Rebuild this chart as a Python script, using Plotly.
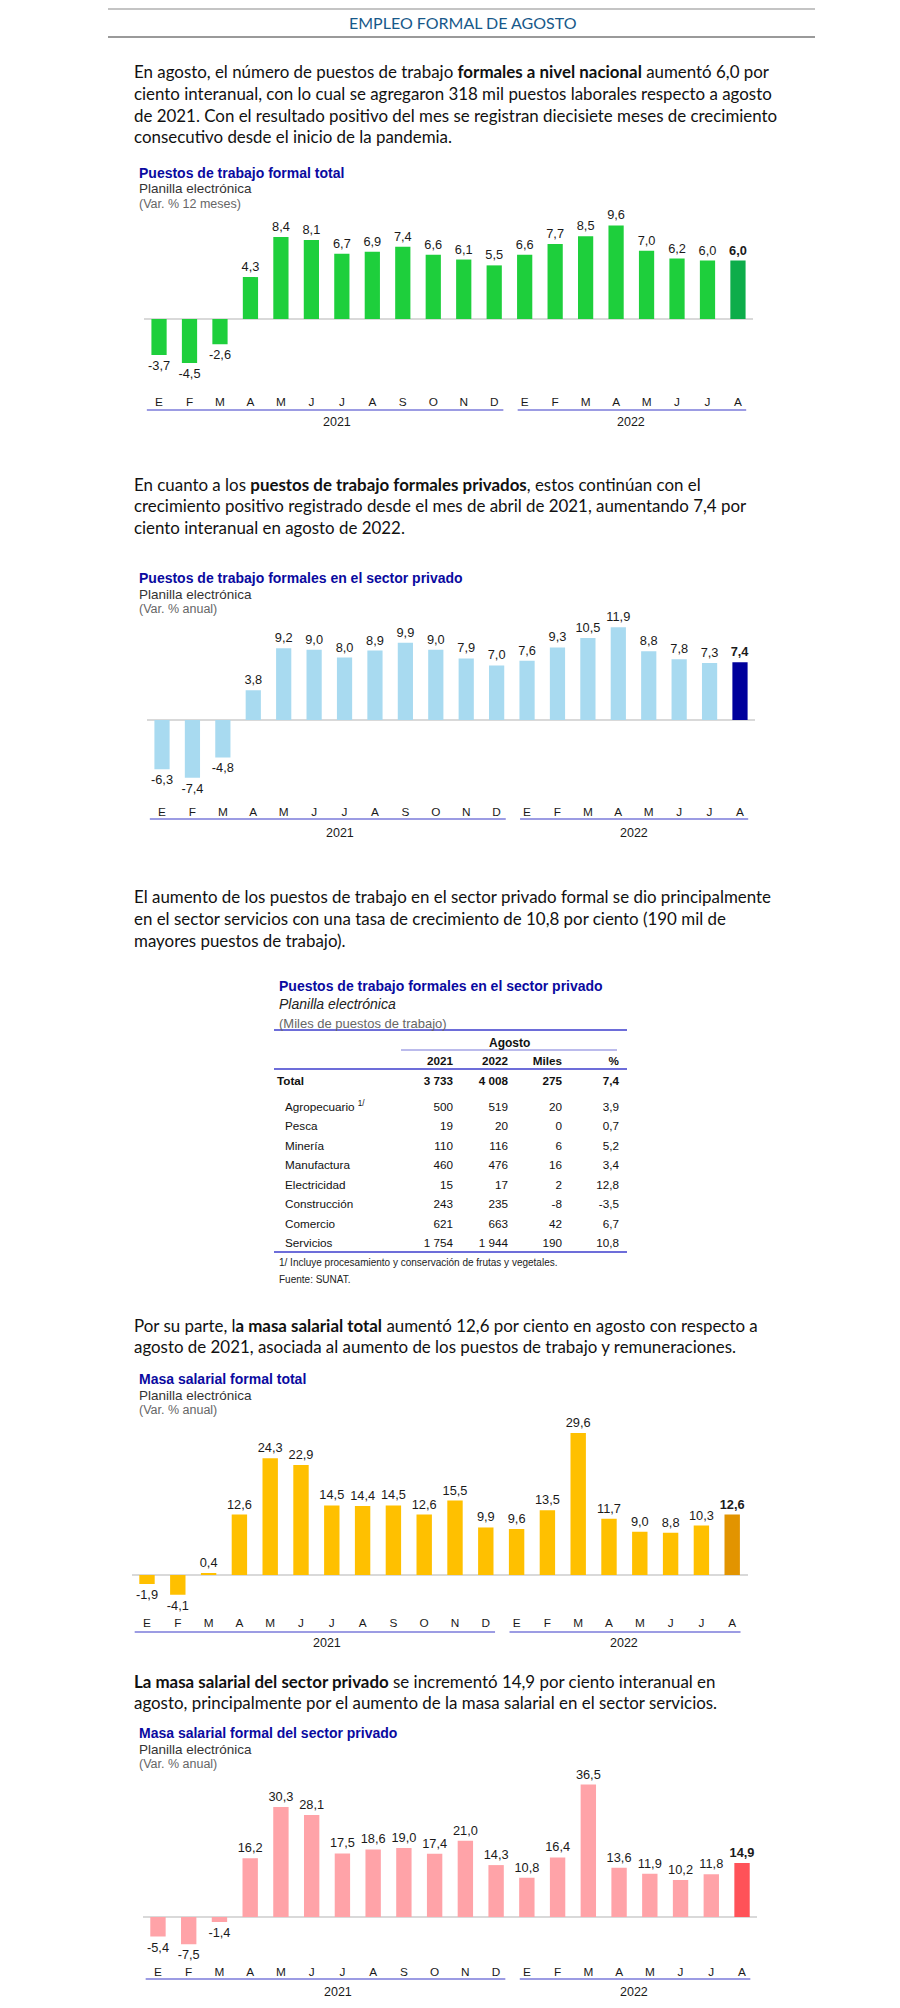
import plotly.graph_objects as go

# page is 900x2008; the browser body keeps an 8px margin, so the figure is 884 wide
OFF = 8
W, H = 884, 1990

# ---------------- data ----------------
months = ["E", "F", "M", "A", "M", "J", "J", "A", "S", "O", "N", "D",
          "E", "F", "M", "A", "M", "J", "J", "A"]
years = ["2021", "2022"]

empleo_total = [-3.7, -4.5, -2.6, 4.3, 8.4, 8.1, 6.7, 6.9, 7.4, 6.6, 6.1, 5.5,
                6.6, 7.7, 8.5, 9.6, 7.0, 6.2, 6.0, 6.0]
empleo_privado = [-6.3, -7.4, -4.8, 3.8, 9.2, 9.0, 8.0, 8.9, 9.9, 9.0, 7.9, 7.0,
                  7.6, 9.3, 10.5, 11.9, 8.8, 7.8, 7.3, 7.4]
masa_total = [-1.9, -4.1, 0.4, 12.6, 24.3, 22.9, 14.5, 14.4, 14.5, 12.6, 15.5, 9.9,
              9.6, 13.5, 29.6, 11.7, 9.0, 8.8, 10.3, 12.6]
masa_privado = [-5.4, -7.5, -1.4, 16.2, 30.3, 28.1, 17.5, 18.6, 19.0, 17.4, 21.0, 14.3,
                10.8, 16.4, 36.5, 13.6, 11.9, 10.2, 11.8, 14.9]

table_header = ["2021", "2022", "Miles", "%"]
total_label = "Total"
total_values = [3733, 4008, 275, 7.4]
sectores = ["Agropecuario", "Pesca", "Minería", "Manufactura", "Electricidad",
            "Construcción", "Comercio", "Servicios"]
sector_2021 = [500, 19, 110, 460, 15, 243, 621, 1754]
sector_2022 = [519, 20, 116, 476, 17, 235, 663, 1944]
sector_miles = [20, 0, 6, 16, 2, -8, 42, 190]
sector_pct = [3.9, 0.7, 5.2, 3.4, 12.8, -3.5, 6.7, 10.8]

# ---------------- styles ----------------
BODY = "Lato, 'Open Sans', sans-serif"
ARIAL = "'Liberation Sans', Arial, sans-serif"
TITLE_BLUE = "#0A0AA0"


def px_y(p):
    return 1 - (p - OFF) / H


def px_x(p):
    return (p - OFF) / W


fig = go.Figure()
annotations = []
shapes = []


def hline(y, x0, x1, color, width):
    shapes.append(dict(type="line", xref="paper", yref="paper",
                       x0=px_x(x0), x1=px_x(x1), y0=px_y(y), y1=px_y(y),
                       line=dict(color=color, width=width)))


def text(x, y, s, size, color="#111", family=BODY, xanchor="left"):
    annotations.append(dict(x=px_x(x), y=px_y(y), xref="paper", yref="paper",
                            text=s, showarrow=False, xanchor=xanchor, yanchor="middle",
                            font=dict(size=size, color=color, family=family)))


def fmt1(v):
    return f"{v:.1f}".replace(".", ",")


def fmt_int(v):
    return f"{v:,}".replace(",", " ")


# ---------------- header ----------------
hline(9, 108, 815, "#8a8a8a", 1.2)
hline(37, 108, 815, "#9a9a9a", 2)
text(463, 23, "EMPLEO FORMAL DE AGOSTO", 16, "#17598A", BODY, "center")


def paragraph(lines, y0, step=21.6):
    for i, ln in enumerate(lines):
        text(132, y0 + i * step, ln, 16.9, "#111", BODY)


paragraph([
    "En agosto, el número de puestos de trabajo <b>formales a nivel nacional</b> aumentó 6,0 por",
    "ciento interanual, con lo cual se agregaron 318 mil puestos laborales respecto a agosto",
    "de 2021. Con el resultado positivo del mes se registran diecisiete meses de crecimiento",
    "consecutivo desde el inicio de la pandemia.",
], 72)

paragraph([
    "En cuanto a los <b>puestos de trabajo formales privados</b>, estos continúan con el",
    "crecimiento positivo registrado desde el mes de abril de 2021, aumentando 7,4 por",
    "ciento interanual en agosto de 2022.",
], 484)

paragraph([
    "El aumento de los puestos de trabajo en el sector privado formal se dio principalmente",
    "en el sector servicios con una tasa de crecimiento de 10,8 por ciento (190 mil de",
    "mayores puestos de trabajo).",
], 897)

paragraph([
    "Por su parte, l<b>a masa salarial total</b> aumentó 12,6 por ciento en agosto con respecto a",
    "agosto de 2021, asociada al aumento de los puestos de trabajo y remuneraciones.",
], 1325)

paragraph([
    "<b>La masa salarial del sector privado</b> se incrementó 14,9 por ciento interanual en",
    "agosto, principalmente por el aumento de la masa salarial en el sector servicios.",
], 1681)

# ---------------- bar charts ----------------
charts = [
    dict(values=empleo_total, base="#1ECF3C", last="#0DAD4A",
         title="Puestos de trabajo formal total", unit="(Var. % 12 meses)",
         title_y=173, xl=143.8, xr=753.2, zero=319, ppu=9.75, top=200, bottom=393,
         uline=410, year_y=422),
    dict(values=empleo_privado, base="#A8DAF0", last="#00009C",
         title="Puestos de trabajo formales en el sector privado", unit="(Var. % anual)",
         title_y=578, xl=146.8, xr=755.2, zero=720, ppu=7.8, top=600, bottom=803,
         uline=819, year_y=833),
    dict(values=masa_total, base="#FFC000", last="#E29400",
         title="Masa salarial formal total", unit="(Var. % anual)",
         title_y=1379, xl=131.6, xr=747.6, zero=1575, ppu=4.8, top=1420, bottom=1614,
         uline=1632, year_y=1643),
    dict(values=masa_privado, base="#FFA3A8", last="#FF5258",
         title="Masa salarial formal del sector privado", unit="(Var. % anual)",
         title_y=1733, xl=142.6, xr=757.4, zero=1917, ppu=3.63, top=1775, bottom=1963,
         uline=1979, year_y=1992),
]

xs = list(range(len(months)))
year_spans = [(-0.4, 11.3, 5.85), (11.77, 19.27, 15.5)]

for i, c in enumerate(charts, start=1):
    vals = c["values"]
    labels = [fmt1(v) for v in vals]
    labels[-1] = "<b>" + labels[-1] + "</b>"
    colors = [c["base"]] * (len(vals) - 1) + [c["last"]]
    xa, ya = f"x{i}", f"y{i}"
    fig.add_trace(go.Bar(
        x=xs, y=vals, width=0.5, marker=dict(color=colors, line=dict(width=0)),
        text=labels, textposition="outside", cliponaxis=False, constraintext="none",
        textfont=dict(size=12.8, color="#1a1a1a", family=ARIAL),
        xaxis=xa, yaxis=ya, showlegend=False, hoverinfo="skip"))
    ymin = -(c["bottom"] - c["zero"]) / c["ppu"]
    ymax = (c["zero"] - c["top"]) / c["ppu"]
    axn = "" if i == 1 else str(i)
    fig.update_layout(**{
        f"xaxis{axn}": dict(domain=[px_x(c["xl"]), px_x(c["xr"])], range=[-0.5, 19.5],
                            anchor=ya, tickmode="array", tickvals=xs, ticktext=months,
                            ticks="", showgrid=False, zeroline=False, showline=False,
                            tickfont=dict(size=11.8, color="#1a1a1a", family=ARIAL),
                            fixedrange=True),
        f"yaxis{axn}": dict(domain=[px_y(c["bottom"]), px_y(c["top"])], range=[ymin, ymax],
                            anchor=xa, showgrid=False, showticklabels=False, ticks="",
                            zeroline=True, zerolinecolor="#D9D9D9", zerolinewidth=2,
                            showline=False, fixedrange=True),
    })
    text(137, c["title_y"], "<b>" + c["title"] + "</b>", 14, TITLE_BLUE, ARIAL)
    text(137, c["title_y"] + 16, "Planilla electrónica", 13.5, "#333", ARIAL)
    text(137, c["title_y"] + 31, c["unit"], 12.5, "#666", ARIAL)
    for (a, b, mid), yr in zip(year_spans, years):
        shapes.append(dict(type="line", xref=xa, yref="paper", x0=a, x1=b,
                           y0=px_y(c["uline"]), y1=px_y(c["uline"]),
                           line=dict(color="#9C9CE3", width=2)))
        annotations.append(dict(x=mid, y=px_y(c["year_y"]), xref=xa, yref="paper",
                                text=yr, showarrow=False, xanchor="center", yanchor="middle",
                                font=dict(size=12.5, color="#1a1a1a", family=ARIAL)))

# ---------------- table (text marks on their own axes, axes in page px) ----------------
TX0, TX1 = 274, 627          # table frame
TY0, TY1 = 1052, 1258
label_x, indent_x = 277, 285
num_right = [453, 508, 562, 619]
HEAD_PX, TOTAL_PX, FIRST_SECTOR_PX, SECTOR_STEP = 1062, 1082, 1108, 19.5

text(277, 986, "<b>Puestos de trabajo formales en el sector privado</b>", 14, TITLE_BLUE, ARIAL)
text(277, 1004, "<i>Planilla electrónica</i>", 14, "#222", ARIAL)
text(277, 1023, "(Miles de puestos de trabajo)", 13, "#666", ARIAL)
hline(1030, TX0, TX1, "#3C3CCC", 1.6)
text(509, 1043, "<b>Agosto</b>", 12, "#111", ARIAL, "center")
hline(1050, 401, 617, "#A4A4E6", 1.6)
hline(1069, TX0, TX1, "#3C3CCC", 1.6)
hline(1252, TX0, TX1, "#3C3CCC", 1.6)
text(277, 1262, "1/ Incluye procesamiento y conservación de frutas y vegetales.", 10, "#222", ARIAL)
text(277, 1279, "Fuente: SUNAT.", 10, "#222", ARIAL)

row_pos = [HEAD_PX, TOTAL_PX] + [FIRST_SECTOR_PX + k * SECTOR_STEP for k in range(len(sectores))]
n_rows = len(row_pos)
tfont = dict(size=11.7, color="#111", family=ARIAL)

fig.add_trace(go.Scatter(
    x=[label_x], y=[row_pos[1]], mode="text", text=["<b>" + total_label + "</b>"],
    textposition="middle right", textfont=tfont, cliponaxis=False,
    xaxis="x5", yaxis="y5", showlegend=False, hoverinfo="skip"))
sector_text = list(sectores)
sector_text[0] = sector_text[0] + " <sup>1/</sup>"
fig.add_trace(go.Scatter(
    x=[indent_x] * len(sectores), y=row_pos[2:], mode="text", text=sector_text,
    textposition="middle right", textfont=tfont, cliponaxis=False,
    xaxis="x5", yaxis="y5", showlegend=False, hoverinfo="skip"))

total_cells = [fmt_int(total_values[0]), fmt_int(total_values[1]),
               fmt_int(total_values[2]), fmt1(total_values[3])]
col_values = [[fmt_int(v) for v in sector_2021],
              [fmt_int(v) for v in sector_2022],
              [fmt_int(v) for v in sector_miles],
              [fmt1(v) for v in sector_pct]]
for k in range(4):
    col = ["<b>" + table_header[k] + "</b>", "<b>" + total_cells[k] + "</b>"] + col_values[k]
    fig.add_trace(go.Scatter(
        x=[num_right[k]] * n_rows, y=row_pos, mode="text", text=col,
        textposition="middle left", textfont=tfont, cliponaxis=False,
        xaxis="x5", yaxis="y5", showlegend=False, hoverinfo="skip"))

fig.update_layout(
    xaxis5=dict(domain=[px_x(TX0), px_x(TX1)], range=[TX0, TX1], anchor="y5",
                visible=False, fixedrange=True),
    yaxis5=dict(domain=[px_y(TY1), px_y(TY0)], range=[TY1, TY0],
                anchor="x5", visible=False, fixedrange=True),
)

fig.update_layout(
    width=W, height=H, margin=dict(l=0, r=0, t=0, b=0),
    paper_bgcolor="white", plot_bgcolor="white",
    annotations=annotations, shapes=shapes,
    font=dict(family=ARIAL),
)

fig.write_html("out.html")
